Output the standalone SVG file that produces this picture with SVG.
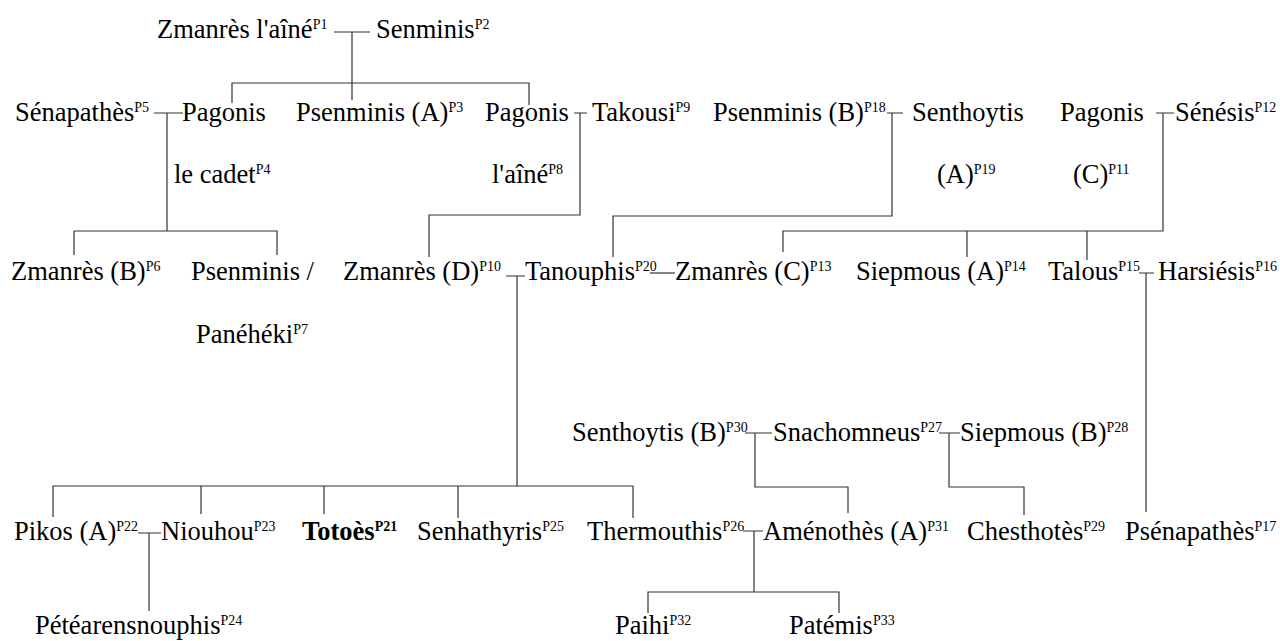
<svg xmlns="http://www.w3.org/2000/svg" width="1280" height="641" viewBox="0 0 1280 641">
<style>
text{font-family:"Liberation Serif","Times New Roman",serif;font-size:26.5px;fill:#000}
.sup{font-size:14px}
.b{font-weight:bold}
#connectors path{fill:none;stroke:#333;stroke-width:1.2}
</style>
<rect width="1280" height="641" fill="#fff"/>
<g id="connectors">
<path d="M334 32H370M352 32V100"/>
<path d="M232 103V83H529V105"/>
<path d="M154 113H183M167 113V231M74 255V231H277V255"/>
<path d="M574 113H587M580 113V215H429V257"/>
<path d="M887 113H903M892 113V216H613V257"/>
<path d="M1156 113H1174M1163 113V231H783V252M967 231V257M1087 231V260"/>
<path d="M506 276H525M517 276V486M53 517V486H633V518M201 486V514M324 486V514M458 486V518"/>
<path d="M650 273H675"/>
<path d="M1139 273H1154M1146 273V512"/>
<path d="M138 533H161M149 533V611"/>
<path d="M743 531H763M754 531V592M648 613V592H839V613"/>
<path d="M745 433H772M755 433V487H848V513"/>
<path d="M939 433H960M949 433V487H1024V515"/>
</g>
<g id="p1"><text x="157" y="38">Zmanrès l'aîné<tspan class="sup" dy="-9">P1</tspan></text></g>
<g id="p2"><text x="376" y="38">Senminis<tspan class="sup" dy="-9">P2</tspan></text></g>
<g id="p5"><text x="15" y="121">Sénapathès<tspan class="sup" dy="-9">P5</tspan></text></g>
<g id="p4"><text x="182" y="121">Pagonis</text><text x="174" y="183">le cadet<tspan class="sup" dy="-9">P4</tspan></text></g>
<g id="p3"><text x="296" y="121">Psenminis (A)<tspan class="sup" dy="-9">P3</tspan></text></g>
<g id="p8"><text x="485" y="121">Pagonis</text><text x="492" y="183">l'aîné<tspan class="sup" dy="-9">P8</tspan></text></g>
<g id="p9"><text x="592" y="121">Takousi<tspan class="sup" dy="-9">P9</tspan></text></g>
<g id="p18"><text x="713" y="121">Psenminis (B)<tspan class="sup" dy="-9">P18</tspan></text></g>
<g id="p19"><text x="912" y="121">Senthoytis</text><text x="937" y="183">(A)<tspan class="sup" dy="-9">P19</tspan></text></g>
<g id="p11"><text x="1060" y="121">Pagonis</text><text x="1073" y="183">(C)<tspan class="sup" dy="-9">P11</tspan></text></g>
<g id="p12"><text x="1175" y="121">Sénésis<tspan class="sup" dy="-9">P12</tspan></text></g>
<g id="p6"><text x="11" y="280">Zmanrès (B)<tspan class="sup" dy="-9">P6</tspan></text></g>
<g id="p7"><text x="191" y="280">Psenminis /</text><text x="196" y="343">Panéhéki<tspan class="sup" dy="-9">P7</tspan></text></g>
<g id="p10"><text x="343" y="280">Zmanrès (D)<tspan class="sup" dy="-9">P10</tspan></text></g>
<g id="p20"><text x="525" y="280">Tanouphis<tspan class="sup" dy="-9">P20</tspan></text></g>
<g id="p13"><text x="675" y="280">Zmanrès (C)<tspan class="sup" dy="-9">P13</tspan></text></g>
<g id="p14"><text x="856" y="280">Siepmous (A)<tspan class="sup" dy="-9">P14</tspan></text></g>
<g id="p15"><text x="1048" y="280">Talous<tspan class="sup" dy="-9">P15</tspan></text></g>
<g id="p16"><text x="1158" y="280">Harsiésis<tspan class="sup" dy="-9">P16</tspan></text></g>
<g id="p30"><text x="572" y="441">Senthoytis (B)<tspan class="sup" dy="-9">P30</tspan></text></g>
<g id="p27"><text x="773" y="441">Snachomneus<tspan class="sup" dy="-9">P27</tspan></text></g>
<g id="p28"><text x="960" y="441">Siepmous (B)<tspan class="sup" dy="-9">P28</tspan></text></g>
<g id="p22"><text x="14" y="540">Pikos (A)<tspan class="sup" dy="-9">P22</tspan></text></g>
<g id="p23"><text x="161" y="540">Niouhou<tspan class="sup" dy="-9">P23</tspan></text></g>
<g id="p21"><text x="302" y="540" class="b">Totoès<tspan class="sup" dy="-9">P21</tspan></text></g>
<g id="p25"><text x="417" y="540">Senhathyris<tspan class="sup" dy="-9">P25</tspan></text></g>
<g id="p26"><text x="587" y="540">Thermouthis<tspan class="sup" dy="-9">P26</tspan></text></g>
<g id="p31"><text x="763" y="540">Aménothès (A)<tspan class="sup" dy="-9">P31</tspan></text></g>
<g id="p29"><text x="967" y="540">Chesthotès<tspan class="sup" dy="-9">P29</tspan></text></g>
<g id="p17"><text x="1125" y="540">Psénapathès<tspan class="sup" dy="-9">P17</tspan></text></g>
<g id="p24"><text x="35" y="634">Pétéarensnouphis<tspan class="sup" dy="-9">P24</tspan></text></g>
<g id="p32"><text x="615" y="634">Paihi<tspan class="sup" dy="-9">P32</tspan></text></g>
<g id="p33"><text x="789" y="634">Patémis<tspan class="sup" dy="-9">P33</tspan></text></g>
</svg>
